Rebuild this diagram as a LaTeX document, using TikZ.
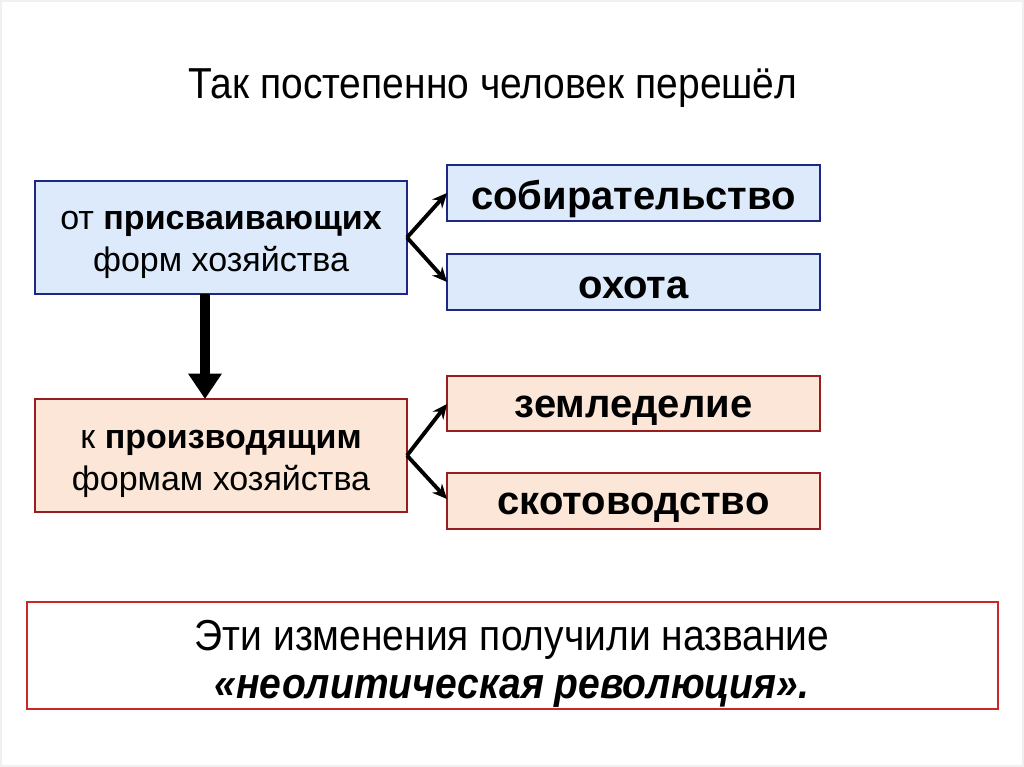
\documentclass[tikz,border=0pt]{standalone}
\usepackage{fontspec}
\setmainfont{Liberation Sans}
\newfontfamily\narrowfont[FakeStretch=0.9]{Liberation Sans}
\usetikzlibrary{arrows.meta}
\definecolor{bluefill}{RGB}{220,234,251}
\definecolor{blueline}{RGB}{30,40,130}
\definecolor{peachfill}{RGB}{251,230,216}
\definecolor{redline}{RGB}{150,30,30}
\definecolor{brightred}{RGB}{200,40,40}
\begin{document}
\begin{tikzpicture}[x=0.75pt,y=-0.75pt,
  bluebox/.style={draw=blueline,fill=bluefill,line width=1.2pt,inner sep=0pt},
  peachbox/.style={draw=redline,fill=peachfill,line width=1.2pt,inner sep=0pt},
  smallarrow/.style={line width=2.9pt,-{Stealth[length=11pt,width=10pt]}},
  bigarrow/.style={line width=7pt,-{Triangle[length=19pt,width=24pt]}},
  boxtext/.style={font=\fontsize{25.5}{31}\selectfont,align=center},
  bigtext/.style={font=\fontsize{30}{34}\selectfont\bfseries}]
\useasboundingbox (0,0) rectangle (1024,767);
\draw[gray!12,line width=0.8pt] (1,1) rectangle (1023,766);
\node[font=\narrowfont\fontsize{32.5}{36}\selectfont] (title) at (493,88) {Так постепенно человек перешёл};
% left boxes
\draw[bluebox] (35,181) rectangle (407,294);
\node[boxtext] (lt) at (221,245) {от \textbf{присваивающих}\\форм хозяйства};
\coordinate (ltE) at (407,237.5);
\coordinate (ltS) at (205,294);
\draw[peachbox] (35,399) rectangle (407,512);
\node[boxtext] (lb) at (221,464) {к \textbf{производящим}\\формам хозяйства};
\coordinate (lbE) at (407,455.5);
\coordinate (lbN) at (205,399);
% right boxes
\draw[bluebox] (447,165) rectangle (820,221);
\node[bigtext] (sob) at (633.5,199) {собирательство};
\coordinate (sobW) at (447,193);
\draw[bluebox] (447,254) rectangle (820,310);
\node[bigtext] (oh) at (633.5,288) {охота};
\coordinate (ohW) at (447,282);
\draw[peachbox] (447,376) rectangle (820,431);
\node[bigtext] (zem) at (633.5,411) {земледелие};
\coordinate (zemW) at (447,404);
\draw[peachbox] (447,473) rectangle (820,529);
\node[bigtext] (sko) at (633.5,508) {скотоводство};
\coordinate (skoW) at (447,499);
% arrows
\draw[smallarrow] (ltE) -- (sobW);
\draw[smallarrow] (ltE) -- (ohW);
\draw[smallarrow] (lbE) -- (zemW);
\draw[smallarrow] (lbE) -- (skoW);
\draw[bigarrow] (ltS) -- (lbN);
% bottom box
\draw[brightred,line width=0.8pt,fill=white] (27,602) rectangle (998,709);
\node[font=\narrowfont\fontsize{32.5}{36}\selectfont,align=center] (note) at (512,664)
  {Эти изменения получили название\\\textbf{\textit{«неолитическая революция».}}};
\end{tikzpicture}
\end{document}
